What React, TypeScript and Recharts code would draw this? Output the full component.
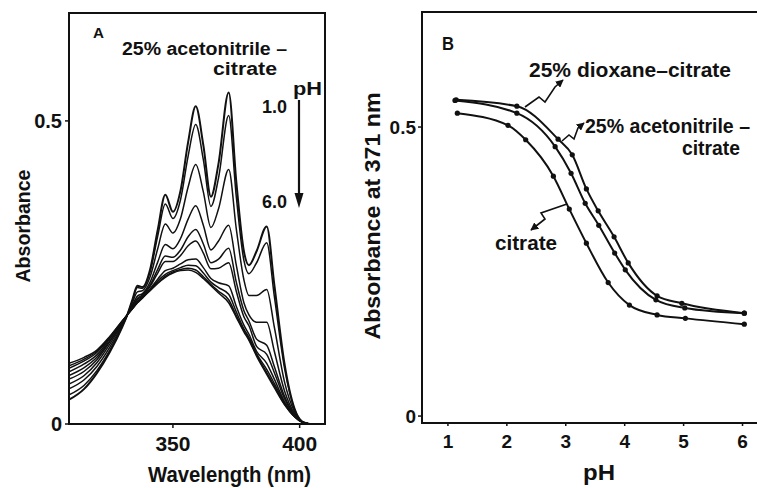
import React from "react";
import { LineChart, Line, XAxis, YAxis, ReferenceArea } from "recharts";

// ---- panel A: spectra, 25% acetonitrile-citrate, pH 1.0 -> 6.0 ----
const wavelengths = [
  309, 315, 320, 325, 330, 332, 334, 336, 338, 341, 344, 347, 350, 353, 356,
  359, 362, 365, 368, 372, 375, 378, 380, 383, 387, 390, 394, 398, 401, 404,
];

const spectrum01 = [
  0.04, 0.058, 0.084, 0.118, 0.16, 0.18, 0.205, 0.228, 0.226, 0.255, 0.32, 0.378, 0.35, 0.385, 0.465,
  0.524, 0.46, 0.375, 0.43, 0.547, 0.4, 0.285, 0.262, 0.285, 0.326, 0.23, 0.1, 0.025, 0.004, 0,
];
const spectrum02 = [
  0.048, 0.064, 0.088, 0.121, 0.161, 0.18, 0.203, 0.225, 0.224, 0.251, 0.31, 0.363, 0.339, 0.37, 0.442,
  0.494, 0.436, 0.359, 0.406, 0.509, 0.375, 0.27, 0.248, 0.266, 0.299, 0.211, 0.093, 0.024, 0.004, 0,
];
const spectrum03 = [
  0.058, 0.073, 0.095, 0.126, 0.163, 0.18, 0.2, 0.218, 0.22, 0.243, 0.289, 0.33, 0.315, 0.339, 0.391,
  0.428, 0.383, 0.324, 0.355, 0.42, 0.322, 0.238, 0.212, 0.212, 0.222, 0.16, 0.07, 0.02, 0.003, 0,
];
const spectrum04 = [
  0.066, 0.08, 0.101, 0.131, 0.165, 0.18, 0.196, 0.211, 0.215, 0.234, 0.267, 0.296, 0.289, 0.306, 0.338,
  0.36, 0.328, 0.287, 0.302, 0.328, 0.262, 0.2, 0.18, 0.168, 0.168, 0.12, 0.055, 0.017, 0.003, 0,
];
const spectrum05 = [
  0.074, 0.087, 0.106, 0.135, 0.166, 0.18, 0.194, 0.207, 0.213, 0.229, 0.255, 0.277, 0.275, 0.287, 0.309,
  0.321, 0.297, 0.266, 0.272, 0.29, 0.234, 0.187, 0.17, 0.14, 0.13, 0.095, 0.046, 0.015, 0.003, 0,
];
const spectrum06 = [
  0.08, 0.093, 0.11, 0.137, 0.167, 0.18, 0.193, 0.205, 0.211, 0.227, 0.249, 0.268, 0.268, 0.278, 0.294,
  0.302, 0.282, 0.256, 0.257, 0.266, 0.219, 0.177, 0.162, 0.128, 0.115, 0.085, 0.042, 0.014, 0.003, 0,
];
const spectrum07 = [
  0.086, 0.099, 0.114, 0.14, 0.168, 0.18, 0.191, 0.202, 0.209, 0.223, 0.239, 0.253, 0.257, 0.264, 0.271,
  0.272, 0.258, 0.24, 0.233, 0.228, 0.194, 0.163, 0.148, 0.12, 0.1, 0.074, 0.037, 0.013, 0.003, 0,
];
const spectrum08 = [
  0.092, 0.104, 0.118, 0.142, 0.169, 0.18, 0.191, 0.201, 0.209, 0.221, 0.236, 0.247, 0.253, 0.258, 0.262,
  0.261, 0.249, 0.234, 0.225, 0.214, 0.185, 0.157, 0.143, 0.116, 0.09, 0.067, 0.035, 0.012, 0.003, 0,
];
const spectrum09 = [
  0.096, 0.107, 0.12, 0.143, 0.17, 0.18, 0.19, 0.2, 0.208, 0.221, 0.233, 0.244, 0.251, 0.255, 0.257,
  0.254, 0.243, 0.23, 0.219, 0.205, 0.179, 0.154, 0.14, 0.114, 0.085, 0.063, 0.033, 0.012, 0.003, 0,
];
const spectrum10 = [
  0.1, 0.11, 0.122, 0.144, 0.17, 0.18, 0.19, 0.2, 0.208, 0.22, 0.232, 0.242, 0.249, 0.253, 0.254,
  0.25, 0.24, 0.228, 0.216, 0.2, 0.176, 0.152, 0.138, 0.112, 0.082, 0.06, 0.032, 0.012, 0.003, 0,
];

const spectra = [
  spectrum01, spectrum02, spectrum03, spectrum04, spectrum05,
  spectrum06, spectrum07, spectrum08, spectrum09, spectrum10,
];

const waveTicks = [350, 400];
const absTicksA = [0, 0.5];

// ---- panel B: absorbance at 371 nm vs pH ----
const phDioxane = [1.14, 2.17, 2.87, 3.11, 3.35, 3.55, 3.82, 4.06, 4.55, 4.97, 6.03];
const absDioxane = [0.547, 0.536, 0.479, 0.452, 0.393, 0.355, 0.31, 0.265, 0.208, 0.195, 0.178];

const phAcetonitrile = [1.12, 2.17, 2.82, 3.09, 3.33, 3.56, 3.83, 4.01, 4.53, 5.02, 6.03];
const absAcetonitrile = [0.546, 0.524, 0.466, 0.42, 0.368, 0.33, 0.282, 0.253, 0.201, 0.187, 0.178];

const phCitrate = [1.16, 2.02, 2.32, 2.79, 3.06, 3.35, 3.72, 4.08, 4.55, 5.03, 6.03];
const absCitrate = [0.524, 0.503, 0.478, 0.415, 0.358, 0.299, 0.231, 0.192, 0.175, 0.169, 0.159];

const phTicks = [1, 2, 3, 4, 5, 6];
const absTicksB = [0, 0.5];

const FONT = '"Liberation Sans", Arial, sans-serif';
const INK = "#111";

const waveDomain: [number, number] = [309, 410];
const absDomainA: [number, number] = [0, 0.678];
const phDomain: [number, number] = [0.56, 6.39];
const absDomainB: [number, number] = [-0.012, 0.699];

const spectrumRows = wavelengths.map((wl, i) => {
  const row: Record<string, number> = { wl };
  spectra.forEach((s, k) => {
    row[`s${k}`] = s[i];
  });
  return row;
});

const toPoints = (ph: number[], abs: number[]) => ph.map((p, i) => ({ ph: p, a: abs[i] }));

const titrations = [
  { key: "dioxane", points: toPoints(phDioxane, absDioxane) },
  { key: "acetonitrile", points: toPoints(phAcetonitrile, absAcetonitrile) },
  { key: "citrate", points: toPoints(phCitrate, absCitrate) },
];

const tickStyle = (size: number) => ({
  fill: INK,
  fontSize: size,
  fontWeight: 700,
  fontFamily: FONT,
});

function SpectraPanel() {
  // x axis keeps its default 30px band, so bottom margin is 488-13-411-30
  return (
    <div style={{ position: "absolute", left: 0, top: 0 }}>
      <LineChart
        width={330}
        height={488}
        data={spectrumRows}
        margin={{ top: 13, right: 5, bottom: 34, left: 0 }}
      >
        <ReferenceArea
          x1={waveDomain[0]}
          x2={waveDomain[1]}
          y1={absDomainA[0]}
          y2={absDomainA[1]}
          fill="none"
          stroke={INK}
          strokeWidth={2}
        />
        <XAxis
          dataKey="wl"
          type="number"
          domain={waveDomain}
          ticks={waveTicks}
          allowDataOverflow
          axisLine={{ stroke: INK, strokeWidth: 2 }}
          tickLine={{ stroke: INK, strokeWidth: 1.5 }}
          tickSize={4}
          tickMargin={8}
          tick={tickStyle(21)}
        />
        <YAxis
          type="number"
          domain={absDomainA}
          ticks={absTicksA}
          allowDataOverflow
          width={69}
          axisLine={{ stroke: INK, strokeWidth: 2 }}
          tickLine={{ stroke: INK, strokeWidth: 1.5 }}
          tickSize={4}
          tickMargin={3}
          tick={tickStyle(20)}
          tickFormatter={(v: number) => (v === 0 ? "0" : String(v))}
        />
        {spectra.map((_, k) => (
          <Line
            key={k}
            dataKey={`s${k}`}
            type="monotone"
            stroke={INK}
            strokeWidth={k === 0 ? 2 : 1.5}
            dot={false}
            isAnimationActive={false}
          />
        ))}
      </LineChart>
    </div>
  );
}

function TitrationPanel() {
  return (
    <div style={{ position: "absolute", left: 362, top: 0 }}>
      <LineChart width={418} height={488} margin={{ top: 12, right: 14.5, bottom: 35, left: 0 }}>
        <ReferenceArea
          x1={phDomain[0]}
          x2={phDomain[1]}
          y1={absDomainB[0]}
          y2={absDomainB[1]}
          fill="none"
          stroke={INK}
          strokeWidth={2}
        />
        <XAxis
          dataKey="ph"
          type="number"
          domain={phDomain}
          ticks={phTicks}
          allowDataOverflow
          axisLine={{ stroke: INK, strokeWidth: 2 }}
          tickLine={{ stroke: INK, strokeWidth: 1.5 }}
          tickSize={3}
          tickMargin={9}
          tick={tickStyle(19)}
        />
        <YAxis
          type="number"
          domain={absDomainB}
          ticks={absTicksB}
          allowDataOverflow
          width={60}
          axisLine={{ stroke: INK, strokeWidth: 2 }}
          tickLine={{ stroke: INK, strokeWidth: 1.5 }}
          tickSize={4}
          tickMargin={2}
          tick={tickStyle(19)}
          tickFormatter={(v: number) => (v === 0 ? "0" : String(v))}
        />
        {titrations.map((t) => (
          <Line
            key={t.key}
            data={t.points}
            dataKey="a"
            type="monotone"
            stroke={INK}
            strokeWidth={2}
            dot={{ r: 2.6, fill: INK, stroke: INK, strokeWidth: 0 }}
            isAnimationActive={false}
          />
        ))}
      </LineChart>
    </div>
  );
}

function Label({
  x,
  y,
  w,
  size,
  children,
}: {
  x: number;
  y: number;
  w?: number;
  size: number;
  children: React.ReactNode;
}) {
  return (
    <text
      x={x}
      y={y}
      fontSize={size}
      fontWeight={700}
      fontFamily={FONT}
      fill={INK}
      textLength={w}
      lengthAdjust={w ? "spacingAndGlyphs" : undefined}
    >
      {children}
    </text>
  );
}

function Annotations() {
  return (
    <svg
      width={757}
      height={488}
      style={{ position: "absolute", left: 0, top: 0, pointerEvents: "none" }}
    >
      <defs>
        <marker id="head" viewBox="0 0 10 10" refX="9" refY="5" markerWidth="5" markerHeight="5" orient="auto">
          <path d="M0,0 L10,5 L0,10 z" fill={INK} />
        </marker>
      </defs>

      {/* panel A */}
      <Label x={93} y={38} size={14} w={11}>A</Label>
      <Label x={122} y={55} size={18} w={165}>25% acetonitrile –</Label>
      <Label x={213} y={75} size={18} w={64}>citrate</Label>
      <Label x={293} y={95} size={19} w={29}>pH</Label>
      <Label x={262} y={113} size={18} w={25}>1.0</Label>
      <Label x={262} y={208} size={18} w={25}>6.0</Label>
      <line x1={299} y1={100} x2={299} y2={196} stroke={INK} strokeWidth={2.2} />
      <path d="M294.5,193 L303.5,193 L299,208 z" fill={INK} />
      <text
        transform="translate(23,226) rotate(-90)"
        textAnchor="middle"
        dy="0.36em"
        fontSize={20}
        fontWeight={700}
        fontFamily={FONT}
        fill={INK}
        textLength={113}
        lengthAdjust="spacingAndGlyphs"
      >
        Absorbance
      </text>
      <Label x={148} y={482} size={22} w={163}>Wavelength (nm)</Label>

      {/* panel B */}
      <Label x={442} y={50} size={18} w={12}>B</Label>
      <Label x={529} y={77} size={20} w={202}>25% dioxane–citrate</Label>
      <Label x={585} y={133} size={20} w={165}>25% acetonitrile –</Label>
      <Label x={682} y={155} size={20} w={58}>citrate</Label>
      <Label x={495} y={250} size={20} w={62}>citrate</Label>
      <Label x={583} y={480} size={22} w={32}>pH</Label>
      <text
        transform="translate(372,216) rotate(-90)"
        textAnchor="middle"
        dy="0.36em"
        fontSize={22}
        fontWeight={700}
        fontFamily={FONT}
        fill={INK}
        textLength={247}
        lengthAdjust="spacingAndGlyphs"
      >
        Absorbance at 371 nm
      </text>

      <g fill="none" stroke={INK} strokeWidth={1.6} markerEnd="url(#head)">
        <polyline points="525,107 539,97 545,102 555,87 563,80" />
        <polyline points="562,141 569,135 574,139 578,128 584,123" />
        <polyline points="567,204 541,213 545,219 531,230" />
      </g>
    </svg>
  );
}

export default function App() {
  return (
    <div
      style={{
        position: "absolute",
        left: 0,
        top: 0,
        width: 757,
        height: 488,
        overflow: "hidden",
        background: "#fff",
      }}
    >
      <SpectraPanel />
      <TitrationPanel />
      <Annotations />
    </div>
  );
}
